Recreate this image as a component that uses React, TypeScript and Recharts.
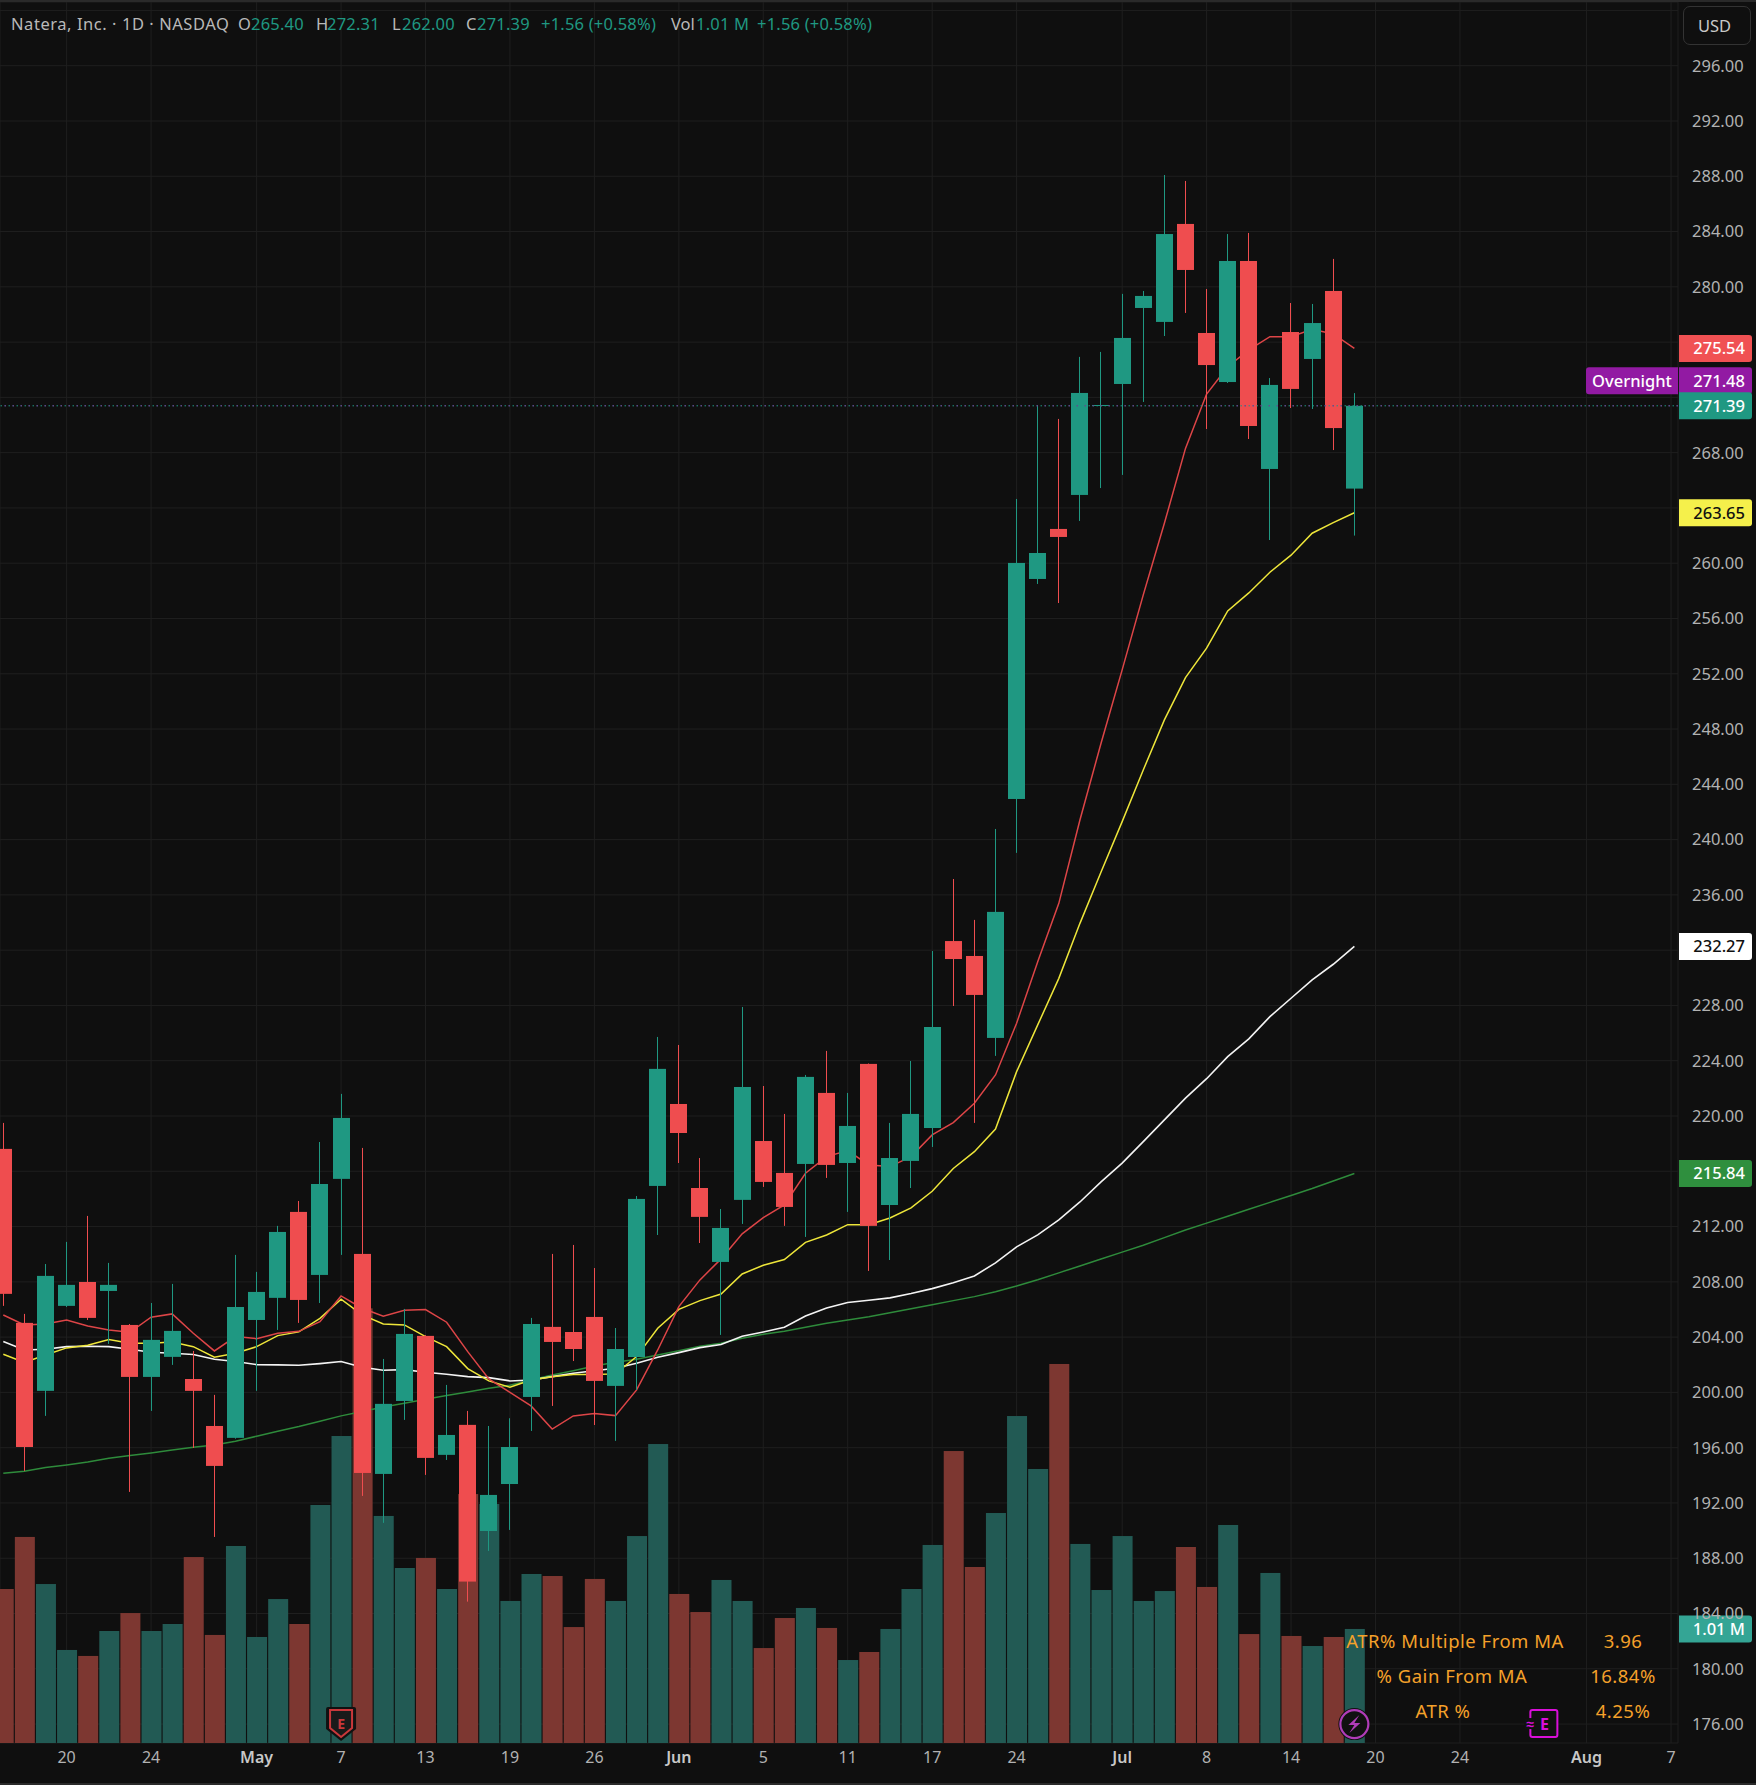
import React from "react";
import { ComposedChart, Bar, Line, XAxis, YAxis, CartesianGrid, ReferenceDot, ReferenceLine } from "recharts";

const FONT = "'Noto Sans', sans-serif";
const BG = "#0f0f0f";
const UP = "#1f9882";
const DOWN = "#ef4d4f";
const VOL_UP = "#225a54";
const VOL_DOWN = "#7d3731";

const highs = [219.5,205.68,209.29,210.89,212.77,209.37,204.95,206.47,207.85,203.0,199.82,209.95,208.72,212.05,213.85,218.12,221.6,217.69,202.42,206.04,204.15,200.54,198.66,197.57,198.13,205.39,210.02,210.67,209.0,204.66,214.21,225.72,225.14,216.96,213.27,227.89,222.17,220.15,222.97,224.71,221.67,223.8,219.5,223.98,231.94,237.15,234.19,240.77,264.65,271.45,270.44,274.93,275.29,279.49,279.7,288.09,287.66,279.84,283.82,283.9,273.4,278.83,278.76,282.02,272.31];
const lows = [206.26,194.32,198.3,206.18,205.24,203.51,192.8,198.66,201.99,195.98,189.54,196.65,200.11,204.52,205.03,206.47,209.95,192.51,190.56,198.01,194.03,195.11,184.86,188.53,190.05,197.21,199.02,202.27,197.64,196.49,200.18,211.39,216.6,210.81,204.16,212.19,214.87,212.05,211.25,215.52,213.06,208.79,209.58,214.79,217.76,227.96,219.5,224.35,239.04,258.5,257.12,263.06,265.44,266.39,271.67,276.44,278.11,269.71,273.04,268.99,261.68,271.23,271.16,268.19,262.0];
const opens = [217.62,205.03,200.11,206.26,207.99,207.34,204.88,201.12,202.57,200.97,197.57,196.71,205.24,206.84,213.06,208.5,215.45,210.02,194.1,199.38,204.09,195.48,197.65,189.97,193.37,199.67,204.74,204.37,205.46,200.47,202.56,214.94,220.87,214.79,209.44,213.93,218.19,215.88,216.53,221.67,216.6,223.77,213.56,216.75,219.13,232.66,231.58,225.65,242.94,258.86,262.48,264.94,271.38,272.97,278.47,277.46,284.55,276.66,273.11,281.87,266.82,276.73,274.78,279.7,265.4];
const closes = [207.13,196.05,208.43,207.78,205.39,207.78,201.12,203.8,204.45,200.11,194.68,206.18,207.27,211.61,206.69,215.08,219.86,194.17,199.17,204.23,195.26,196.92,186.31,192.58,196.05,204.95,203.65,203.14,200.83,203.14,214.0,223.41,218.77,212.7,211.9,222.1,215.23,213.42,222.83,216.46,219.28,212.05,216.96,220.15,226.44,231.36,228.76,234.77,260.02,260.74,261.9,272.32,271.45,276.3,279.34,283.82,281.22,274.34,281.87,269.93,272.9,272.61,277.38,269.78,271.39];
const volumes = [1.364,1.825,1.408,0.824,0.771,0.992,1.151,0.992,1.054,1.647,0.957,1.745,0.939,1.275,1.054,2.108,2.719,3.85,2.011,1.55,1.639,1.364,2.205,2.117,1.258,1.497,1.479,1.027,1.453,1.258,1.833,2.648,1.32,1.16,1.444,1.258,0.841,1.107,1.196,1.019,0.735,0.806,1.01,1.364,1.754,2.586,1.559,2.037,2.896,2.427,3.357,1.763,1.355,1.833,1.258,1.346,1.736,1.382,1.931,0.965,1.506,0.948,0.859,0.939,1.01];
const maRed = [205.6,204.88,204.95,205.24,204.81,204.52,204.35,205.44,205.68,204.28,203.0,204.04,203.89,204.28,204.42,205.12,206.98,206.09,205.51,205.94,205.99,205.08,202.95,200.97,200.0,199.02,197.35,198.3,198.47,198.32,200.18,203.07,206.21,208.14,209.66,211.47,212.65,213.56,215.86,217.06,217.5,216.46,216.34,217.06,218.63,219.52,220.92,222.97,226.71,231.17,235.39,241.42,246.97,252.28,257.71,262.89,268.31,272.24,274.22,275.43,276.39,276.39,276.92,276.59,275.54];
const maYellow = [202.76,202.16,202.71,203.22,203.41,203.82,203.56,203.56,203.65,203.31,202.54,202.83,203.31,204.11,204.38,205.36,206.74,205.61,204.95,204.88,204.04,203.31,201.72,200.83,200.37,200.9,201.14,201.29,201.29,201.34,202.59,204.64,206.01,206.64,207.12,208.57,209.2,209.61,210.86,211.39,212.14,212.14,212.62,213.35,214.55,216.2,217.42,219.05,223.21,226.59,229.96,233.94,237.65,241.3,245.04,248.66,251.72,253.85,256.55,257.85,259.35,260.58,262.17,262.94,263.65];
const maWhite = [203.68,203.07,203.12,203.31,203.34,203.31,203.12,202.9,202.83,202.74,202.4,202.23,202.01,201.99,201.96,202.08,202.23,201.82,201.6,201.65,201.46,201.31,201.14,201.07,200.83,200.9,201.14,201.38,201.57,201.75,202.11,202.54,202.88,203.24,203.46,204.06,204.37,204.71,205.53,206.11,206.5,206.67,206.84,207.15,207.51,207.94,208.43,209.37,210.53,211.4,212.48,213.78,215.23,216.59,218.15,219.72,221.29,222.7,224.3,225.58,227.19,228.52,229.85,230.98,232.27];
const maGreen = [194.15,194.29,194.56,194.75,194.97,195.23,195.43,195.62,195.84,196.03,196.2,196.46,196.83,197.19,197.53,197.91,198.3,198.61,198.95,199.21,199.5,199.77,200.03,200.3,200.51,200.9,201.26,201.57,201.91,202.18,202.4,202.71,203.02,203.34,203.55,203.92,204.21,204.42,204.71,205.0,205.24,205.48,205.77,206.06,206.35,206.64,206.93,207.29,207.7,208.15,208.65,209.15,209.65,210.15,210.65,211.2,211.75,212.25,212.75,213.25,213.75,214.25,214.75,215.3,215.84];

const priceTicks = [176,180,184,188,192,196,200,204,208,212,216,220,224,228,232,236,240,244,248,252,256,260,264,268,272,276,280,284,288,292,296,300];
const hiddenPriceLabels = [216,232,264,272,276,300];
const timeTicks = [3,7,12,16,20,24,28,32,36,40,44,48,53,57,61,65,69,75,79];
const timeLabels = ["20","24","May","7","13","19","26","Jun","5","11","17","24","Jul","8","14","20","24","Aug","7"];
const monthLabels = ["May","Jun","Jul","Aug"];

const headerParts: [string, number, string, number][] = [
  ["Natera, Inc. · 1D · NASDAQ", 11, "#b9b9b9", 0.55],
  ["O", 238, "#b9b9b9", 0], ["265.40", 251, UP, 0.2],
  ["H", 316, "#b9b9b9", 0], ["272.31", 327, UP, 0.2],
  ["L", 392, "#b9b9b9", 0], ["262.00", 402, UP, 0.2],
  ["C", 466, "#b9b9b9", 0], ["271.39", 477, UP, 0.2],
  ["+1.56 (+0.58%)", 541, UP, 0.2],
  ["Vol", 671, "#b9b9b9", 0], ["1.01 M", 696, UP, 0.2],
  ["+1.56 (+0.58%)", 757, UP, 0.2],
];
const statRows: [string, string, number, number][] = [
  ["ATR% Multiple From MA", "3.96", 1455, 1623],
  ["% Gain From MA", "16.84%", 1452, 1623],
  ["ATR %", "4.25%", 1443, 1623],
];
const priceTags: [number, string, string, string][] = [
  [275.54, "275.54", "#f05153", "#ffffff"],
  [263.65, "263.65", "#f5f04b", "#111111"],
  [232.27, "232.27", "#ffffff", "#111111"],
  [215.84, "215.84", "#2f8f3e", "#ffffff"],
];

const rows = opens.map((o, i) => ({
  i,
  open: o,
  close: closes[i],
  range: [lows[i], highs[i]],
  volume: volumes[i],
  maRed: maRed[i],
  maYellow: maYellow[i],
  maWhite: maWhite[i],
  maGreen: maGreen[i],
}));

const Candle = (props: any) => {
  const { x, y, width, height, payload } = props;
  if (!payload || height == null) return null;
  const [lo, hi] = payload.range;
  const k = height / (hi - lo);
  const top = y + (hi - Math.max(payload.open, payload.close)) * k;
  const bh = Math.max(1, Math.abs(payload.open - payload.close) * k);
  const c = payload.close >= payload.open ? UP : DOWN;
  const bx = Math.round(x);
  return (
    <g>
      <rect x={bx + Math.floor(width / 2)} y={y} width={1} height={height} fill={c} />
      <rect x={bx} y={top} width={width} height={bh} fill={c} />
    </g>
  );
};

const VolumeBar = (props: any) => {
  const { x, y, width, height, payload } = props;
  return <rect x={x} y={y} width={width} height={height} fill={payload.close >= payload.open ? VOL_UP : VOL_DOWN} />;
};

const TimeTick = (props: any) => {
  const { x, y, payload } = props;
  const label = timeLabels[timeTicks.indexOf(payload.value)];
  const month = monthLabels.includes(label);
  return (
    <text x={x} y={y} dy={6} textAnchor="middle" fontFamily={FONT} fontSize={16} fontWeight={month ? 600 : 400} fill={month ? "#c8c8c8" : "#b2b2b2"}>
      {label}
    </text>
  );
};

const Tag = ({ cx, cy, label, bg, fg, shift = 0 }: any) => (
  <g>
    <path d={`M${cx + 1} ${cy + shift - 13.5}h70a3 3 0 0 1 3 3v21a3 3 0 0 1 -3 3h-70z`} fill={bg} />
    <text x={cx + 67} y={cy + shift + 6} textAnchor="end" fontFamily={FONT} fontSize={16.5} fontWeight={500} fill={fg}>{label}</text>
  </g>
);

const OvernightTag = ({ cx, cy }: any) => (
  <g>
    <path d={`M${cx} ${cy - 38.5}h-89a3 3 0 0 0 -3 3v21a3 3 0 0 0 3 3h89z`} fill="#921aa3" />
    <text x={cx - 46} y={cy - 19} textAnchor="middle" fontFamily={FONT} fontSize={16.5} fontWeight={500} fill="#ffffff">Overnight</text>
  </g>
);

const EarningsMark = ({ cx, cy }: any) => (
  <g>
    <path d={`M${cx - 13} ${cy - 17}h26a2 2 0 0 1 2 2v20l-15 12l-15 -12v-20a2 2 0 0 1 2 -2z`} fill="#111" />
    <path d={`M${cx - 11} ${cy - 14}h22v18l-11 9l-11 -9z`} fill="#1a1a1a" stroke="#c9383b" strokeWidth={2} />
    <text x={cx} y={cy + 5} textAnchor="middle" fontFamily={FONT} fontSize={14} fontWeight={700} fill="#c9383b">E</text>
  </g>
);

const BoltMark = ({ cx, cy }: any) => (
  <g>
    <circle cx={cx} cy={cy} r={16} fill="#111" />
    <circle cx={cx} cy={cy} r={14} fill="none" stroke="#b03cb8" strokeWidth={2.2} />
    <path d={`M${cx + 5} ${cy - 9}l-11 10h6l-5 8l11 -10h-6z`} fill="#b03cb8" />
  </g>
);

const DividendMark = ({ cx, cy }: any) => (
  <g>
    <rect x={cx - 14} y={cy - 14} width={27} height={27} rx={2} fill="#111" stroke="#d90fd9" strokeWidth={2} />
    <rect x={cx - 20} y={cy - 6} width={10} height={11} fill="#111" />
    <text x={cx - 14} y={cy + 5} textAnchor="middle" fontFamily={FONT} fontSize={14} fontWeight={700} fill="#d90fd9">≈</text>
    <text x={cx} y={cy + 6} textAnchor="middle" fontFamily={FONT} fontSize={16} fontWeight={700} fill="#d90fd9">E</text>
  </g>
);

export default function App() {
  return (
    <div style={{ position: "absolute", left: 0, top: 0, width: 1756, height: 1785, background: BG, overflow: "hidden", fontFamily: FONT }}>
      <ComposedChart width={1756} height={1785} data={rows} margin={{ top: 2, right: 0, bottom: 0, left: 0 }}>
        <XAxis xAxisId={0} dataKey="i" type="number" scale="linear" domain={[-0.156, 79.33]} allowDataOverflow ticks={timeTicks} interval={0} height={42} axisLine={false} tickLine={false} tick={<TimeTick />} tickMargin={8} />
        <XAxis xAxisId="v" dataKey="i" type="number" scale="linear" domain={[-0.156, 79.33]} allowDataOverflow hide />
        <YAxis yAxisId="price" orientation="right" type="number" domain={[174.63, 300.61]} allowDataOverflow ticks={priceTicks} interval={0} width={78} axisLine={false} tickLine={false} tickSize={0} tickMargin={14} tick={{ fill: "#b2b2b2", fontSize: 16.5, fontFamily: FONT }} tickFormatter={(v: number) => (hiddenPriceLabels.includes(v) ? "" : v.toFixed(2))} />
        <YAxis yAxisId="vol" type="number" domain={[0, 15.42]} allowDataOverflow hide />
        <CartesianGrid xAxisId={0} yAxisId="price" stroke="#1f1f1f" strokeWidth={1} />
        <Bar xAxisId="v" yAxisId="vol" dataKey="volume" barSize={20} isAnimationActive={false} shape={<VolumeBar />} zIndex={200} />
        <Line xAxisId={0} yAxisId="price" dataKey="maGreen" stroke="#2e8b3b" strokeWidth={1.5} dot={false} type="linear" isAnimationActive={false} />
        <Line xAxisId={0} yAxisId="price" dataKey="maWhite" stroke="#f4f4f4" strokeWidth={1.6} dot={false} type="linear" isAnimationActive={false} />
        <Line xAxisId={0} yAxisId="price" dataKey="maYellow" stroke="#eee63a" strokeWidth={1.5} dot={false} type="linear" isAnimationActive={false} />
        <Line xAxisId={0} yAxisId="price" dataKey="maRed" stroke="#dd4547" strokeWidth={1.5} dot={false} type="linear" isAnimationActive={false} />
        <Bar xAxisId={0} yAxisId="price" dataKey="range" barSize={17} isAnimationActive={false} shape={<Candle />} zIndex={500} />
        <ReferenceLine xAxisId={0} yAxisId="price" y={271.39} stroke="#7e2f96" strokeWidth={1} strokeDasharray="1.5 6.5" zIndex={600} />
        <ReferenceLine xAxisId={0} yAxisId="price" y={271.39} stroke="#1f9882" strokeWidth={1} strokeDasharray="1.5 2.5" zIndex={590} />
        <ReferenceDot xAxisId={0} yAxisId="price" x={16} y={176} r={0} ifOverflow="visible" shape={<EarningsMark />} zIndex={700} />
        <ReferenceDot xAxisId={0} yAxisId="price" x={64} y={176} r={0} ifOverflow="visible" shape={<BoltMark />} zIndex={700} />
        <ReferenceDot xAxisId={0} yAxisId="price" x={73} y={176} r={0} ifOverflow="visible" shape={<DividendMark />} zIndex={700} />
        {priceTags.map(([v, label, bg, fg]) => (
          <ReferenceDot key={label} xAxisId={0} yAxisId="price" x={79.33} y={v} r={0} ifOverflow="visible" zIndex={800} shape={<Tag label={label} bg={bg} fg={fg} />} />
        ))}
        <ReferenceDot xAxisId={0} yAxisId="price" x={79.33} y={271.39} r={0} ifOverflow="visible" zIndex={800} shape={<OvernightTag />} />
        <ReferenceDot xAxisId={0} yAxisId="price" x={79.33} y={271.39} r={0} ifOverflow="visible" zIndex={800} shape={<Tag label="271.48" bg="#921aa3" fg="#ffffff" shift={-25} />} />
        <ReferenceDot xAxisId={0} yAxisId="price" x={79.33} y={271.39} r={0} ifOverflow="visible" zIndex={800} shape={<Tag label="271.39" bg="#1f9882" fg="#ffffff" />} />
        <ReferenceDot xAxisId="v" yAxisId="vol" x={79.33} y={1.01} r={0} ifOverflow="visible" zIndex={800} shape={<Tag label="1.01 M" bg="#34a595" fg="#ffffff" />} />
      </ComposedChart>
      <div style={{ position: "absolute", left: 0, top: 0, width: 1756, height: 2, background: "#2a2a2a" }} />
      <div style={{ position: "absolute", left: 0, top: 1783, width: 1756, height: 2, background: "#2a2a2a" }} />
      {headerParts.map(([t, left, color, ls], k) => (
        <span key={k} style={{ position: "absolute", left, top: 13, fontSize: 16.5, letterSpacing: ls, lineHeight: "22px", color, whiteSpace: "nowrap" }}>{t}</span>
      ))}
      <div style={{ position: "absolute", left: 1683, top: 6, width: 68, height: 39, boxSizing: "border-box", border: "1px solid #333", borderRadius: 7, color: "#c8c8c8", fontSize: 16.5, lineHeight: "37px", textAlign: "left", paddingLeft: 14, background: BG }}>USD</div>
      {statRows.map(([name, val, a, b], k) => (
        <React.Fragment key={name}>
          <span style={{ position: "absolute", left: a, top: 1629 + k * 35, transform: "translateX(-50%)", fontSize: 18.5, letterSpacing: 0.5, lineHeight: "24px", color: "#f5a12a", whiteSpace: "nowrap" }}>{name}</span>
          <span style={{ position: "absolute", left: b, top: 1629 + k * 35, transform: "translateX(-50%)", fontSize: 18.5, letterSpacing: 0.5, lineHeight: "24px", color: "#f5a12a", whiteSpace: "nowrap" }}>{val}</span>
        </React.Fragment>
      ))}
    </div>
  );
}
